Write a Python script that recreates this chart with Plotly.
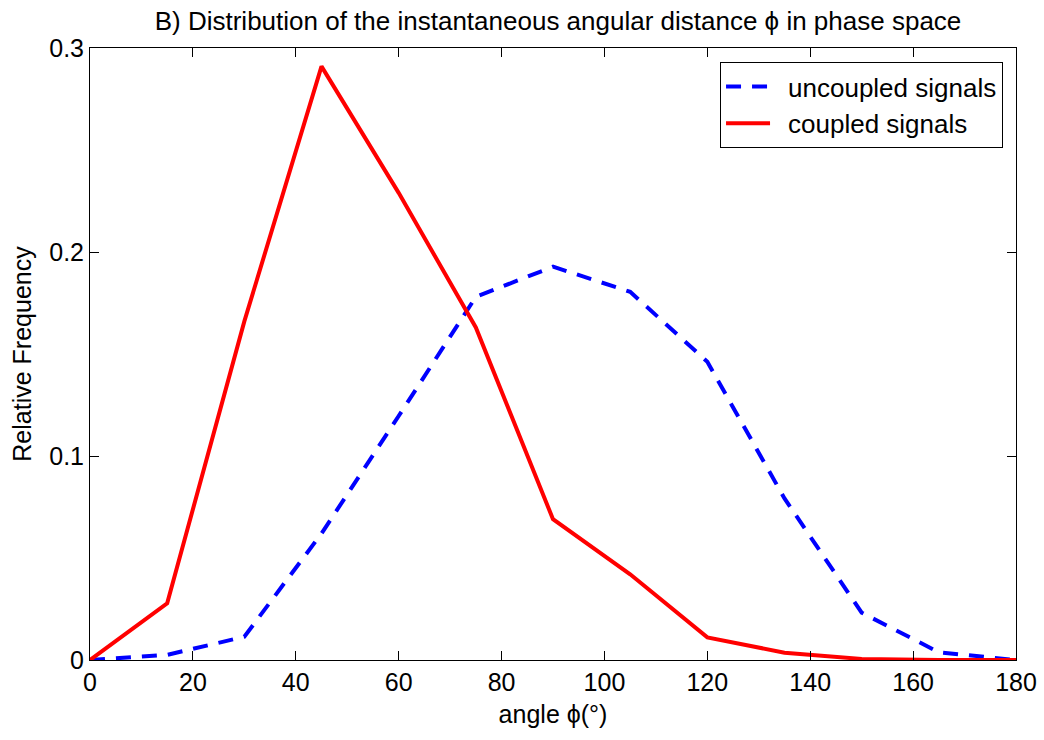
import plotly.graph_objects as go

# Angle bins (degrees)
angle_deg = [0, 15, 30, 45, 60, 75, 90, 105, 120, 135, 150, 165, 180]

# Relative frequency of the angular distance per bin
uncoupled = [0.0, 0.0025, 0.0114, 0.062, 0.1196, 0.178, 0.1928, 0.1805, 0.1462,
             0.0792, 0.0232, 0.0038, 0.0]
coupled = [0.0, 0.0278, 0.166, 0.291, 0.229, 0.163, 0.069, 0.042, 0.0111,
           0.0036, 0.0005, 0.0, 0.0]

x_ticks = [0, 20, 40, 60, 80, 100, 120, 140, 160, 180]
y_ticks = [0, 0.1, 0.2, 0.3]
y_tick_text = ["0", "0.1", "0.2", "0.3"]

FONT = "Liberation Sans, Arial, Helvetica, sans-serif"
GAP = "\u2002"  # spacing between the legend line sample and its label

fig = go.Figure()
fig.add_trace(go.Scatter(
    x=angle_deg, y=uncoupled, mode="lines", name=GAP + "uncoupled signals",
    line=dict(color="#0000FF", width=4, dash="15px,11px"),
))
fig.add_trace(go.Scatter(
    x=angle_deg, y=coupled, mode="lines", name=GAP + "coupled signals",
    line=dict(color="#FF0000", width=4),
))

axis_common = dict(
    showline=True, linecolor="black", linewidth=1, mirror="ticks",
    ticks="inside", ticklen=9, tickwidth=1, tickcolor="black",
    showgrid=False, zeroline=False, automargin=False,
    tickfont=dict(family=FONT, size=25, color="black"),
)

fig.update_layout(
    width=1044, height=740,
    margin=dict(l=90, r=28, t=48, b=80),
    paper_bgcolor="white", plot_bgcolor="white",
    font=dict(family=FONT, size=24, color="black"),
    title=dict(
        text="B) Distribution of the instantaneous angular distance \u03d5 in phase space",
        x=0.5345, xanchor="center", y=0.972, yanchor="middle",
        font=dict(family=FONT, size=26, color="black"),
        automargin=False,
    ),
    xaxis=dict(
        range=[0, 180], tickvals=x_ticks,
        title=dict(text="angle \u03d5(\u00b0)", font=dict(family=FONT, size=25), standoff=10),
        **axis_common,
    ),
    yaxis=dict(
        range=[0, 0.3], tickvals=y_ticks, ticktext=y_tick_text,
        title=dict(text="Relative Frequency", font=dict(family=FONT, size=25), standoff=10),
        **axis_common,
    ),
    legend=dict(
        x=0.986, y=0.977, xanchor="right", yanchor="top",
        bgcolor="white", bordercolor="black", borderwidth=1,
        font=dict(family=FONT, size=26, color="black"),
        tracegroupgap=0, itemwidth=44,
    ),
    showlegend=True,
)

fig.write_html("out.html")
